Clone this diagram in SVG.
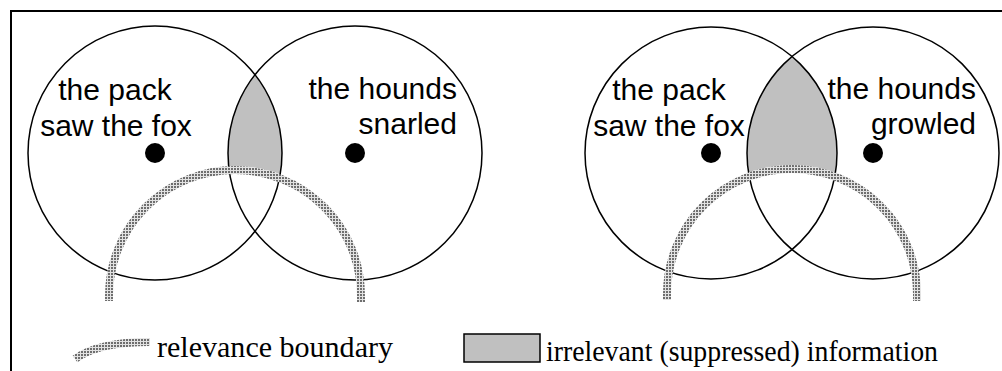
<svg xmlns="http://www.w3.org/2000/svg" width="1002" height="371" viewBox="0 0 1002 371">
  <style>
    .circ { fill: none; stroke: #000; stroke-width: 1.5; }
    .dot { fill: #000; }
    .lens { fill: #c0c0c0; }
    .lbl { font-family: "Liberation Sans", Arial, sans-serif; font-size: 30px; fill: #000; }
    .leg { font-family: "Liberation Serif", "Times New Roman", serif; font-size: 30px; fill: #000; }
    .rel { fill: none; stroke: url(#dots); stroke-width: 8; }
  </style>
  <defs>
    <pattern id="dots" patternUnits="userSpaceOnUse" width="3" height="3">
      <rect width="3" height="3" fill="#e2e2e2"/>
      <rect width="2" height="2" fill="#6e6e6e"/>
    </pattern>
    <clipPath id="clipL">
      <path clip-rule="evenodd" d="M0 0 H1002 V371 H0 Z M 105 296 A 130 130 0 1 0 365 296 A 130 130 0 1 0 105 296 Z"/>
    </clipPath>
    <clipPath id="clipR">
      <path clip-rule="evenodd" d="M0 0 H1002 V371 H0 Z M 663 294 A 129 129 0 1 0 921 294 A 129 129 0 1 0 663 294 Z"/>
    </clipPath>
  </defs>
  <rect width="1002" height="371" fill="#fff"/>
  <rect x="11" y="11" width="1100" height="500" fill="none" stroke="#000" stroke-width="2"/>

  <!-- left diagram -->
  <g id="left-lens">
    <path class="lens" clip-path="url(#clipL)" d="M 255 74.7 A 127 127 0 0 1 255 231.3 A 127 127 0 0 1 255 74.7 Z"/>
  </g>
  <g id="left-pack">
    <circle class="circ" cx="155" cy="153" r="127"/>
    <circle class="dot" cx="155" cy="153" r="10"/>
    <text class="lbl" text-anchor="middle" x="115" y="100">the pack</text>
    <text class="lbl" text-anchor="middle" x="116" y="136">saw the fox</text>
  </g>
  <g id="left-hounds">
    <circle class="circ" cx="355" cy="153" r="127"/>
    <circle class="dot" cx="355" cy="153" r="10"/>
    <text class="lbl" text-anchor="end" x="457" y="99">the hounds</text>
    <text class="lbl" text-anchor="end" x="457" y="134">snarled</text>
  </g>

  <!-- right diagram -->
  <g id="right-lens">
    <path class="lens" clip-path="url(#clipR)" d="M 792 56.5 A 126 126 0 0 1 792 249.5 A 126 126 0 0 1 792 56.5 Z"/>
  </g>
  <g id="right-pack">
    <circle class="circ" cx="711" cy="153" r="126"/>
    <circle class="dot" cx="711" cy="153" r="10"/>
    <text class="lbl" text-anchor="middle" x="669" y="100">the pack</text>
    <text class="lbl" text-anchor="middle" x="669" y="136">saw the fox</text>
  </g>
  <g id="right-hounds">
    <circle class="circ" cx="873" cy="153" r="126"/>
    <circle class="dot" cx="873" cy="153" r="10"/>
    <text class="lbl" text-anchor="end" x="976" y="99">the hounds</text>
    <text class="lbl" text-anchor="end" x="976" y="134">growled</text>
  </g>

  <g id="connectors">
    <path class="rel" d="M 109 301 V 296 A 126 126 0 0 1 361 296 V 302"/>
    <path class="rel" d="M 667 300 V 294 A 125 125 0 0 1 917 294 V 301"/>
  </g>

  <g id="legend">
    <path class="rel" stroke-width="7" d="M 75 359 Q 98 342 150 342"/>
    <text class="leg" x="157" y="357" textLength="236" lengthAdjust="spacingAndGlyphs">relevance boundary</text>
    <rect x="464" y="334" width="76" height="28" fill="#c0c0c0" stroke="#000" stroke-width="1.5"/>
    <text class="leg" x="546" y="361" textLength="392" lengthAdjust="spacingAndGlyphs">irrelevant (suppressed) information</text>
  </g>
</svg>
